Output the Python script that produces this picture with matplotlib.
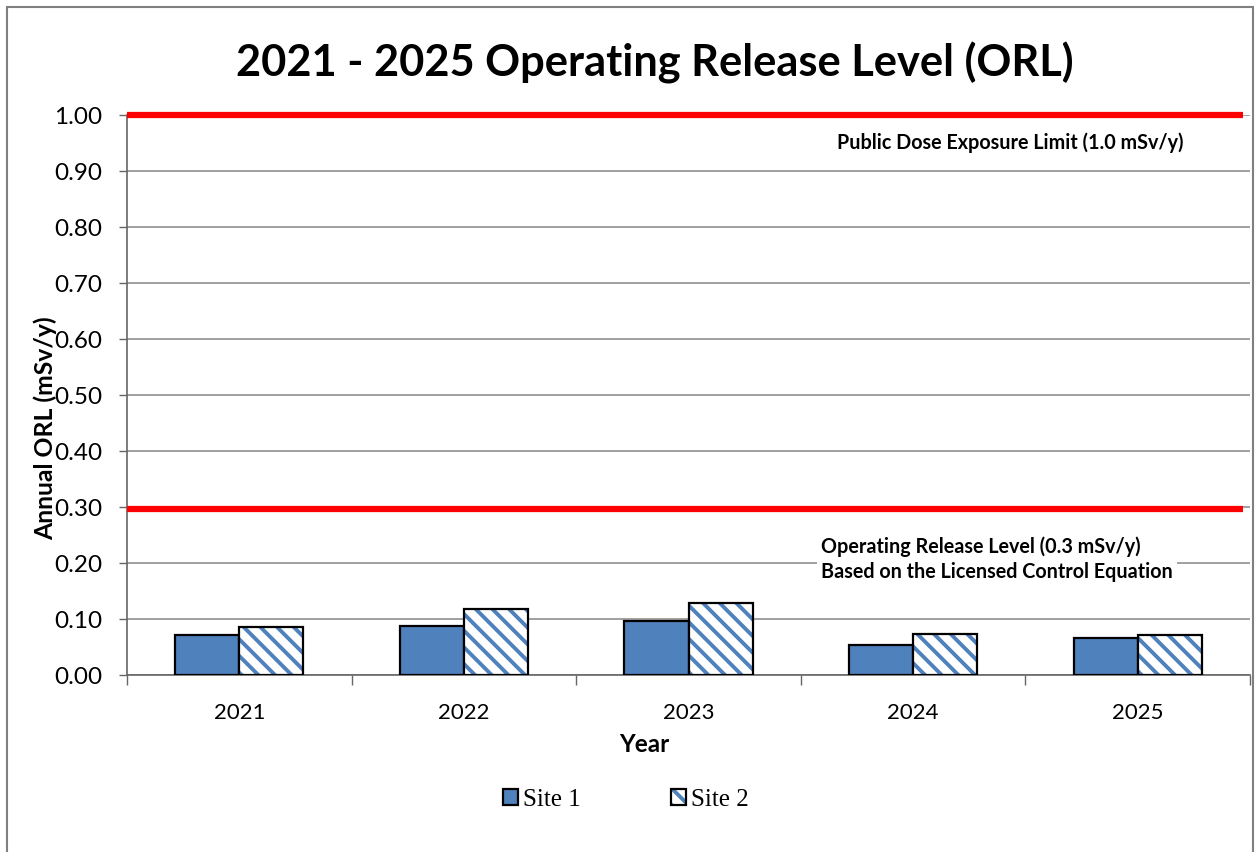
import matplotlib
matplotlib.use("Agg")
import matplotlib.pyplot as plt
import matplotlib.patches as mpatches
import numpy as np

years = ["2021", "2022", "2023", "2024", "2025"]
site1 = [0.072, 0.088, 0.097, 0.054, 0.066]
site2 = [0.086, 0.117, 0.128, 0.073, 0.072]
yticks = [0.0, 0.1, 0.2, 0.3, 0.4, 0.5, 0.6, 0.7, 0.8, 0.9, 1.0]
public_limit = 1.0
orl_level = 0.3

BLUE = "#4F81BD"
SANS = ["Lato", "DejaVu Sans"]
plt.rcParams["font.family"] = SANS
plt.rcParams["hatch.linewidth"] = 2.8

W, H = 1256, 852
fig = plt.figure(figsize=(W / 100, H / 100), dpi=100)
ax = fig.add_axes([127 / W, 1 - 675 / H, (1250 - 127) / W, (675 - 115) / H])

x = np.arange(len(years))
bw = 0.285
ax.bar(x - bw / 2, site1, bw, color=BLUE, edgecolor="black", linewidth=1.6, zorder=3)
ax.bar(x + bw / 2, site2, bw, color="white", edgecolor=BLUE, hatch="\\\\", linewidth=0, zorder=3)
ax.bar(x + bw / 2, site2, bw, fill=False, edgecolor="black", linewidth=1.6, zorder=4)

ax.set_xlim(-0.5, len(years) - 0.5)
ax.set_ylim(0, 1.0)
ax.set_yticks(yticks)
ax.set_yticklabels([f"{v:.2f}" for v in yticks], fontsize=17.5)
ax.yaxis.grid(True, color="#868686", linewidth=1.1, zorder=0)
ax.set_axisbelow(True)
ax.tick_params(axis="y", length=6, width=1, color="#666666", pad=12)
ax.set_xticks(x)
ax.set_xticklabels(years, fontsize=16)
ax.set_xticks(np.arange(-0.5, len(years), 1.0), minor=True)
ax.tick_params(axis="x", which="major", length=0, pad=20)
ax.tick_params(axis="x", which="minor", length=7, width=1, color="#666666")
for s in ["top", "right"]:
    ax.spines[s].set_visible(False)
ax.spines["left"].set_color("#666666")
ax.spines["bottom"].set_color("#666666")
ax.spines["left"].set_linewidth(1.2)
ax.spines["bottom"].set_linewidth(1.2)

ax.axhline(public_limit, xmin=0, xmax=0.9935, color="#FF0000", linewidth=4.5, zorder=5,
           clip_on=False, solid_capstyle="butt")
ax.axhline(orl_level - 0.003, xmin=0, xmax=0.9935, color="#FF0000", linewidth=4.5, zorder=5,
           solid_capstyle="butt")

ax.text(2.66, 0.95, "Public Dose Exposure Limit (1.0 mSv/y)", fontsize=14.2,
        fontweight="bold", va="center", ha="left", zorder=6)
ax.text(2.589, 0.207, "Operating Release Level (0.3 mSv/y)\nBased on the Licensed Control Equation",
        fontsize=14.2, fontweight="bold", va="center", ha="left", linespacing=1.35, zorder=6,
        bbox=dict(facecolor="white", edgecolor="none", pad=3))

fig.text(654.5 / W, 1 - 63 / H, "2021 - 2025 Operating Release Level (ORL)", fontsize=31.2,
         fontweight="bold", ha="center", va="center")
fig.text(45 / W, 1 - 428 / H, "Annual ORL (mSv/y)", fontsize=17.8, fontweight="bold",
         rotation=90, ha="center", va="center")
fig.text(644 / W, 1 - 745 / H, "Year", fontsize=17.5, fontweight="bold", ha="center", va="center")

h1 = mpatches.Patch(facecolor=BLUE, edgecolor="black", linewidth=1.6)
h2 = mpatches.Patch(facecolor="white", edgecolor=BLUE, hatch="\\\\", linewidth=0)
h2b = mpatches.Patch(fill=False, edgecolor="black", linewidth=1.6)
leg = fig.legend([h1, (h2, h2b)], ["Site 1", "Site 2"], loc="center",
                 bbox_to_anchor=(626 / W, 1 - 800 / H), ncol=2, frameon=False,
                 prop={"family": "Liberation Serif", "size": 18},
                 handlelength=0.6, handleheight=0.6, handletextpad=0.2, columnspacing=3.6)

border = mpatches.Rectangle((7 / W, -0.05), (1253 - 7) / W, 1.05 - 7 / H, transform=fig.transFigure,
                            fill=False, edgecolor="#808080", linewidth=1.5)
fig.patches.append(border)

fig.savefig("out.png", dpi=100, facecolor="white")
